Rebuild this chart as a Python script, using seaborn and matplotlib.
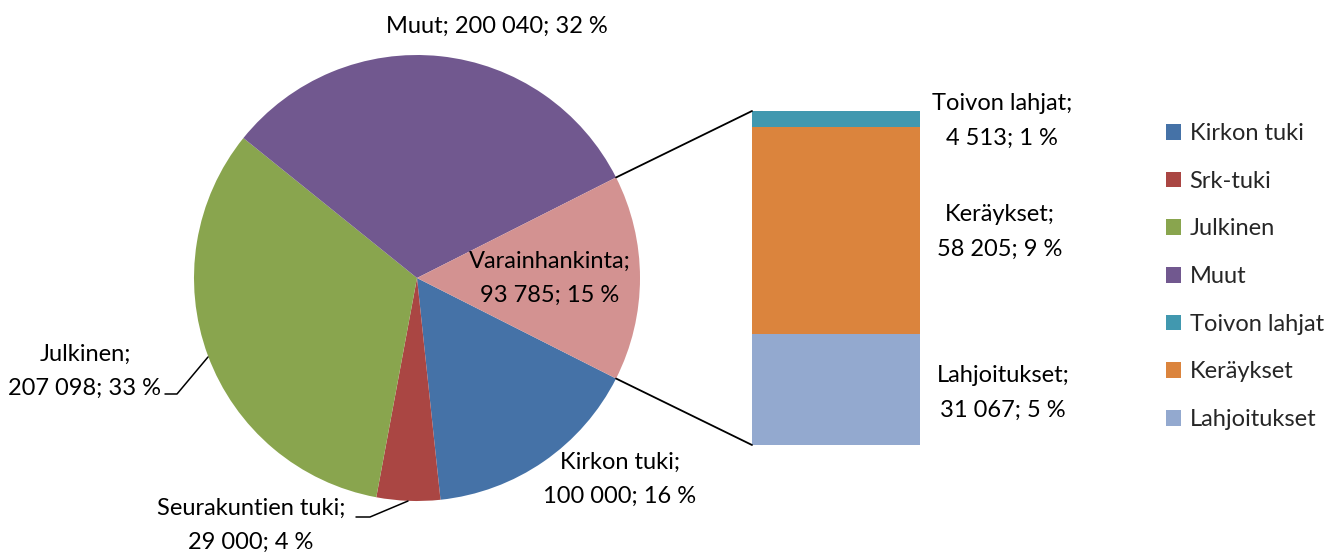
import matplotlib
matplotlib.use("Agg")
import matplotlib.pyplot as plt
from matplotlib.patches import ConnectionPatch
import numpy as np
import seaborn as sns

# Piirakan osat (myötäpäivään Kirkon tuesta alkaen)
pie_labels = ["Kirkon tuki", "Seurakuntien tuki", "Julkinen", "Muut", "Varainhankinta"]
pie_legend = ["Kirkon tuki", "Srk-tuki", "Julkinen", "Muut"]
pie_values = [100000, 29000, 207098, 200040, 93785]
pie_pct = [16, 4, 33, 32, 15]
pie_colors = ["#4572A7", "#AA4643", "#89A54E", "#71588F", "#D39291"]

# Varainhankinnan erittely (ylhäältä alas)
bar_labels = ["Toivon lahjat", "Keräykset", "Lahjoitukset"]
bar_values = [4513, 58205, 31067]
bar_pct = [1, 9, 5]
bar_colors = ["#4198AF", "#DB843D", "#93A9CF"]

W, H = 1331, 552


def px(x, y):
    # pikselit -> kuvan koordinaatit
    return x / W, 1 - y / H


def fmt(v, p):
    return f"{v:,}".replace(",", " ") + f"; {p} %"


sns.set_theme(style="white")
plt.rcParams["font.family"] = ["Lato", "DejaVu Sans"]
FS = 17

fig = plt.figure(figsize=(W / 100, H / 100), dpi=100)

# Piirakka
cx, cy, r = 417, 278, 223
ax_pie = fig.add_axes([(cx - r) / W, (H - cy - r) / H, 2 * r / W, 2 * r / H])
start = -pie_values[-1] / sum(pie_values) * 360 / 2
wedges, _ = ax_pie.pie(
    pie_values,
    colors=pie_colors,
    startangle=start,
    counterclock=False,
    radius=1,
    wedgeprops={"linewidth": 0},
)
ax_pie.set_xlim(-1, 1)
ax_pie.set_ylim(-1, 1)
ax_pie.axis("off")

# Pylväs
bx0, bx1, by0, by1 = 752, 920, 111, 445
ax_bar = fig.add_axes([bx0 / W, (H - by1) / H, (bx1 - bx0) / W, (by1 - by0) / H])
cum = np.cumsum(bar_values[::-1])[::-1]  # pinottujen huippujen korkeudet
for top, c in zip(cum, bar_colors):
    sns.barplot(x=["v"], y=[top], color=c, width=1, saturation=1, ax=ax_bar, linewidth=0)
ax_bar.set_xlim(-0.5, 0.5)
ax_bar.set_ylim(0, sum(bar_values))
ax_bar.axis("off")

# Yhdysviivat
w = wedges[-1]
for ang, yb in [(w.theta2, sum(bar_values)), (w.theta1, 0)]:
    t = np.deg2rad(ang)
    con = ConnectionPatch(
        xyA=(np.cos(t), np.sin(t)), coordsA=ax_pie.transData,
        xyB=(-0.5, yb), coordsB=ax_bar.transData,
        color="black", linewidth=1.3,
    )
    fig.add_artist(con)

# Arvotekstit
def label(x, y, s):
    fig.text(*px(x, y), s, ha="center", va="center", fontsize=FS,
             linespacing=1.78, color="black")

label(497, 26, f"{pie_labels[3]}; " + fmt(pie_values[3], pie_pct[3]))
label(550, 278, f"{pie_labels[4]};\n" + fmt(pie_values[4], pie_pct[4]))
label(620, 479, f"{pie_labels[0]};\n" + fmt(pie_values[0], pie_pct[0]))
label(251, 525, f"{pie_labels[1]};\n" + fmt(pie_values[1], pie_pct[1]))
label(85, 371, f"{pie_labels[2]};\n" + fmt(pie_values[2], pie_pct[2]))
label(1002, 121, f"{bar_labels[0]};\n" + fmt(bar_values[0], bar_pct[0]))
label(1000, 232, f"{bar_labels[1]};\n" + fmt(bar_values[1], bar_pct[1]))
label(1003, 393, f"{bar_labels[2]};\n" + fmt(bar_values[2], bar_pct[2]))

# Ohjausviivat
for pts in [[(165, 394), (177, 394), (208, 357)], [(356, 517), (370, 517), (408, 501)]]:
    xs, ys = zip(*[px(*p) for p in pts])
    fig.add_artist(plt.Line2D(xs, ys, color="black", linewidth=1.1))

# Selite
handles = list(wedges[:4]) + list(ax_bar.patches[:3])
fig.legend(
    handles, pie_legend + bar_labels,
    loc="upper left", bbox_to_anchor=px(1166, 123),
    frameon=False, fontsize=FS,
    handlelength=0.65, handleheight=0.65, handletextpad=0.35,
    labelspacing=1.13, borderaxespad=0, borderpad=0,
)

fig.savefig("out.png", dpi=100)
